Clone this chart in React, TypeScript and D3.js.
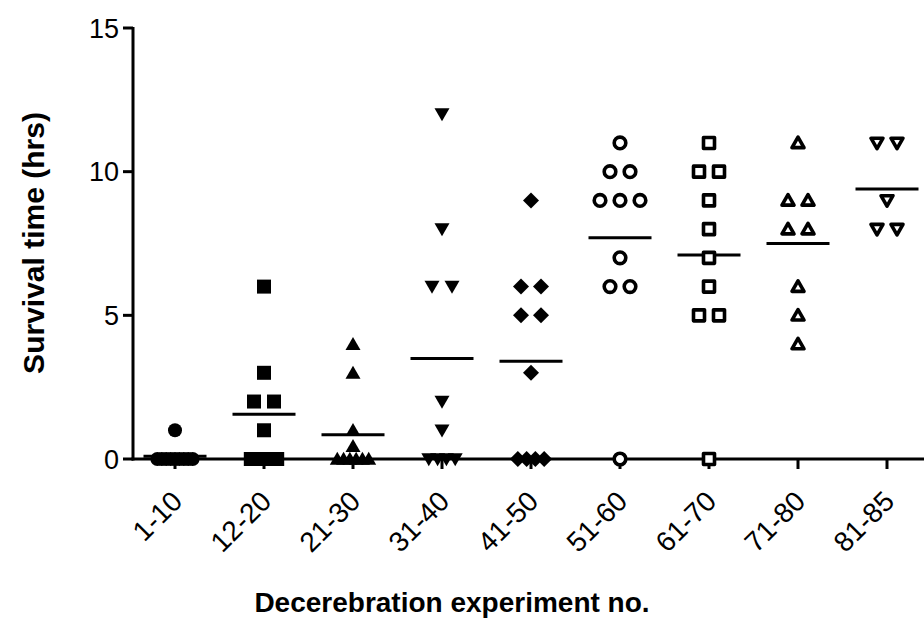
import React from "react";
import * as d3 from "d3";

const categories = ["1-10", "12-20", "21-30", "31-40", "41-50", "51-60", "61-70", "71-80", "81-85"];
const symbols = ["circleF", "squareF", "triUpF", "triDownF", "diamondF", "circleO", "squareO", "triUpO", "triDownO"];

const g1 = [1, 0, 0, 0, 0, 0, 0, 0, 0, 0];
const g2 = [6, 3, 2, 2, 1, 0, 0, 0, 0];
const g3 = [4, 3, 1, 0.45, 0, 0, 0, 0, 0, 0];
const g4 = [12, 8, 6, 6, 2, 1, 0, 0, 0, 0];
const g5 = [9, 6, 6, 5, 5, 3, 0, 0, 0, 0];
const g6 = [11, 10, 10, 9, 9, 9, 7, 6, 6, 0];
const g7 = [11, 10, 10, 9, 8, 7, 6, 5, 5, 0];
const g8 = [11, 9, 9, 8, 8, 6, 5, 4];
const g9 = [11, 11, 9, 8, 8];
const groups = [g1, g2, g3, g4, g5, g6, g7, g8, g9];

const yTicks = [0, 5, 10, 15];
const yTitle = "Survival time (hrs)";
const xTitle = "Decerebration experiment no.";

const W = 924, H = 621;
const x0 = 133, x1 = 924, yTop = 28, yBot = 459;

function markerPath(kind: string): { d: string; filled: boolean } {
  const filled = kind.endsWith("F");
  const k = kind.slice(0, -1);
  if (k === "circle") {
    const r = filled ? 7 : 5.8;
    return { d: `M${-r},0A${r},${r} 0 1,0 ${r},0A${r},${r} 0 1,0 ${-r},0Z`, filled };
  }
  if (k === "square") {
    const s = filled ? 7 : 5.5;
    return { d: `M${-s},${-s}H${s}V${s}H${-s}Z`, filled };
  }
  if (k === "triUp") {
    const w = filled ? 7.5 : 6, h = filled ? 13 : 10.5;
    return { d: `M0,${-h * 0.55}L${w},${h * 0.45}L${-w},${h * 0.45}Z`, filled };
  }
  if (k === "triDown") {
    const w = filled ? 7.5 : 6, h = filled ? 13 : 10.5;
    return { d: `M0,${h * 0.55}L${w},${-h * 0.45}L${-w},${-h * 0.45}Z`, filled };
  }
  const a = 8;
  return { d: `M0,${-a}L${a},0L0,${a}L${-a},0Z`, filled };
}

export default function App() {
  const x = d3.scalePoint<string>().domain(categories).range([175, 887]);
  const y = d3.scaleLinear().domain([0, 15]).range([yBot, yTop]);

  const points: { cx: number; cy: number; kind: string; key: string }[] = [];
  const means: { cx: number; cy: number; key: string }[] = [];
  groups.forEach((vals, gi) => {
    const cx = x(categories[gi]) as number;
    const byVal = d3.group(vals, (v) => v);
    byVal.forEach((row, v) => {
      const n = row.length;
      const sp = n <= 3 ? 20 : 44 / (n + 1);
      row.forEach((_, i) => {
        points.push({ cx: cx + (i - (n - 1) / 2) * sp, cy: y(v), kind: symbols[gi], key: `${gi}-${v}-${i}` });
      });
    });
    means.push({ cx, cy: y(d3.mean(vals) as number), key: `m${gi}` });
  });

  const font = "'Liberation Sans', Arial, sans-serif";

  return (
    <svg width={W} height={H} style={{ position: "absolute", left: 0, top: 0, background: "#fff" }} fontFamily={font}>
      <rect width={W} height={H} fill="#fff" />
      <line x1={x0} x2={x0} y1={yTop - 1} y2={yBot + 1.5} stroke="#000" strokeWidth={3} />
      <line x1={x0 - 1.5} x2={x1} y1={yBot} y2={yBot} stroke="#000" strokeWidth={3} />
      {yTicks.map((t) => (
        <g key={t}>
          <line x1={x0 - 10} x2={x0} y1={y(t)} y2={y(t)} stroke="#000" strokeWidth={3} />
          <text x={x0 - 14} y={y(t)} dy="0.36em" textAnchor="end" fontSize={27}>{t}</text>
        </g>
      ))}
      {categories.map((c) => {
        const cx = x(c) as number;
        return (
          <g key={c}>
            <line x1={cx} x2={cx} y1={yBot} y2={yBot + 10} stroke="#000" strokeWidth={3} />
            <text transform={`translate(${cx + 9},${yBot + 44}) rotate(-45)`} textAnchor="end" fontSize={28}>{c}</text>
          </g>
        );
      })}
      {means.map((m) => (
        <line key={m.key} x1={m.cx - 31.5} x2={m.cx + 31.5} y1={m.cy} y2={m.cy} stroke="#000" strokeWidth={3} />
      ))}
      {points.map((p) => {
        const mk = markerPath(p.kind);
        return (
          <path key={p.key} transform={`translate(${p.cx},${p.cy})`} d={mk.d}
            fill={mk.filled ? "#000" : "#fff"} stroke="#000" strokeWidth={mk.filled ? 0 : 3.6} strokeLinejoin="round" />
        );
      })}
      <text transform={`translate(44,${243}) rotate(-90)`} textAnchor="middle" fontSize={30} fontWeight="bold">{yTitle}</text>
      <text x={452} y={612} textAnchor="middle" fontSize={28} fontWeight="bold">{xTitle}</text>
    </svg>
  );
}
